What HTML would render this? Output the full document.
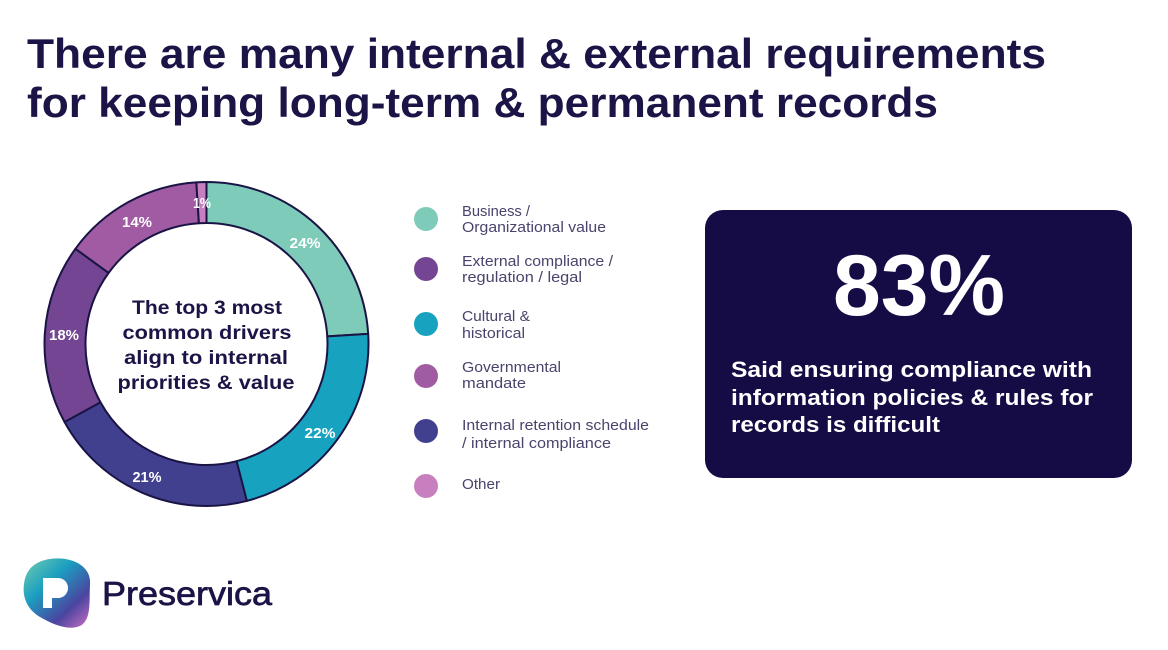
<!DOCTYPE html>
<html><head><meta charset="utf-8"><style>
html,body{margin:0;padding:0;background:#fff;}
svg{display:block;}
text{font-family:"Liberation Sans",Arial,sans-serif;}
</style></head><body>
<svg width="1168" height="650" viewBox="0 0 1168 650" xmlns="http://www.w3.org/2000/svg">
<defs>
<linearGradient id="lg" x1="25" y1="560" x2="88" y2="627" gradientUnits="userSpaceOnUse">
<stop offset="0" stop-color="#6fcab0"/>
<stop offset="0.35" stop-color="#1b9fc0"/>
<stop offset="0.72" stop-color="#4a45a0"/>
<stop offset="1" stop-color="#c46cc2"/>
</linearGradient>
</defs>
<rect width="1168" height="650" fill="#fff"/>
<!-- Title -->
<g fill="#1b1446" font-weight="bold" font-size="42">
<text x="27" y="68" textLength="1019" lengthAdjust="spacingAndGlyphs">There are many internal &amp; external requirements</text>
<text x="27" y="117" textLength="911" lengthAdjust="spacingAndGlyphs">for keeping long-term &amp; permanent records</text>
</g>
<!-- Donut -->
<g stroke="#1a1445" stroke-width="2" stroke-linejoin="round">
<path d="M206.5 182 A162 162 0 0 1 368.18 333.83 L327.26 336.40 A121 121 0 0 0 206.5 223 Z" fill="#7ecbb9"/>
<path d="M368.18 333.83 A162 162 0 0 1 246.79 500.91 L236.59 461.20 A121 121 0 0 0 327.26 336.40 Z" fill="#17a3bf"/>
<path d="M246.79 500.91 A162 162 0 0 1 64.54 422.04 L100.47 402.29 A121 121 0 0 0 236.59 461.20 Z" fill="#40408f"/>
<path d="M64.54 422.04 A162 162 0 0 1 75.44 248.78 L108.61 272.88 A121 121 0 0 0 100.47 402.29 Z" fill="#744592"/>
<path d="M75.44 248.78 A162 162 0 0 1 196.33 182.32 L198.90 223.24 A121 121 0 0 0 108.61 272.88 Z" fill="#a05ba3"/>
<path d="M196.33 182.32 A162 162 0 0 1 206.5 182 L206.5 223 A121 121 0 0 0 198.90 223.24 Z" fill="#c77fbf"/>
</g>
<g fill="#fff" font-weight="bold" font-size="14.5" text-anchor="middle">
<text x="305" y="248" textLength="31" lengthAdjust="spacingAndGlyphs">24%</text>
<text x="320" y="438" textLength="31" lengthAdjust="spacingAndGlyphs">22%</text>
<text x="147" y="482" textLength="29" lengthAdjust="spacingAndGlyphs">21%</text>
<text x="64" y="340" textLength="30" lengthAdjust="spacingAndGlyphs">18%</text>
<text x="137" y="227" textLength="30" lengthAdjust="spacingAndGlyphs">14%</text>
<text x="202" y="208" textLength="18" lengthAdjust="spacingAndGlyphs">1%</text>
</g>
<g fill="#1b1446" font-weight="bold" font-size="19" text-anchor="middle">
<text x="207" y="314" textLength="150" lengthAdjust="spacingAndGlyphs">The top 3 most</text>
<text x="207" y="339" textLength="169" lengthAdjust="spacingAndGlyphs">common drivers</text>
<text x="206" y="364" textLength="164" lengthAdjust="spacingAndGlyphs">align to internal</text>
<text x="206" y="389" textLength="177" lengthAdjust="spacingAndGlyphs">priorities &amp; value</text>
</g>
<!-- Legend -->
<circle cx="426" cy="219" r="12" fill="#7ecbb9"/>
<circle cx="426" cy="269" r="12" fill="#744592"/>
<circle cx="426" cy="324" r="12" fill="#17a3bf"/>
<circle cx="426" cy="376" r="12" fill="#a05ba3"/>
<circle cx="426" cy="431" r="12" fill="#40408f"/>
<circle cx="426" cy="486" r="12" fill="#c77fbf"/>
<g fill="#48446c" font-size="15">
<text x="462" y="216" textLength="68" lengthAdjust="spacingAndGlyphs">Business /</text>
<text x="462" y="232" textLength="144" lengthAdjust="spacingAndGlyphs">Organizational value</text>
<text x="462" y="266" textLength="151" lengthAdjust="spacingAndGlyphs">External compliance /</text>
<text x="462" y="282" textLength="120" lengthAdjust="spacingAndGlyphs">regulation / legal</text>
<text x="462" y="321" textLength="68" lengthAdjust="spacingAndGlyphs">Cultural &amp;</text>
<text x="462" y="338" textLength="63" lengthAdjust="spacingAndGlyphs">historical</text>
<text x="462" y="372" textLength="99" lengthAdjust="spacingAndGlyphs">Governmental</text>
<text x="462" y="388" textLength="64" lengthAdjust="spacingAndGlyphs">mandate</text>
<text x="462" y="430" textLength="187" lengthAdjust="spacingAndGlyphs">Internal retention schedule</text>
<text x="462" y="448" textLength="149" lengthAdjust="spacingAndGlyphs">/ internal compliance</text>
<text x="462" y="489" textLength="38" lengthAdjust="spacingAndGlyphs">Other</text>
</g>
<!-- Box -->
<rect x="705" y="210" width="427" height="268" rx="18" ry="18" fill="#150b45"/>
<text x="919" y="315" fill="#fff" font-weight="bold" font-size="86" text-anchor="middle" textLength="172" lengthAdjust="spacingAndGlyphs">83%</text>
<g fill="#fff" font-weight="bold" font-size="22">
<text x="731" y="377" textLength="361" lengthAdjust="spacingAndGlyphs">Said ensuring compliance with</text>
<text x="731" y="405" textLength="362" lengthAdjust="spacingAndGlyphs">information policies &amp; rules  for</text>
<text x="731" y="432" textLength="209" lengthAdjust="spacingAndGlyphs">records is difficult</text>
</g>
<!-- Logo -->
<path d="M50 559 C70 556 92 565 90 585 C89 600 92 620 80 626 C68 631 52 624 40 617 C28 610 22 598 24 584 C26 568 36 561 50 559 Z" fill="url(#lg)"/>
<path d="M43 578 H58 A10 10 0 0 1 58 598 H52 V608 H43 Z" fill="#fff"/>
<text x="102" y="605" fill="#1b1446" font-size="33" stroke="#1b1446" stroke-width="0.7" textLength="170" lengthAdjust="spacingAndGlyphs">Preservica</text>
</svg>
</body></html>
